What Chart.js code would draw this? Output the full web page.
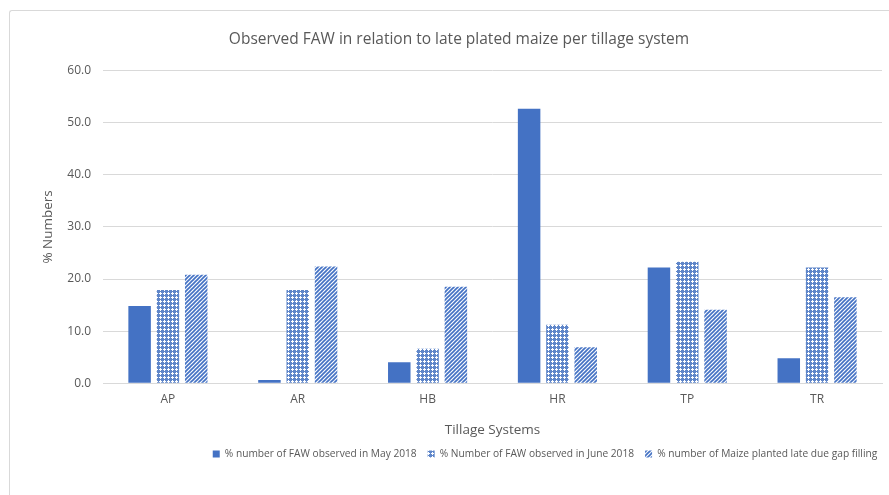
<!DOCTYPE html>
<html>
<head>
<meta charset="utf-8">
<script src="https://cdn.jsdelivr.net/npm/chart.js@4/dist/chart.umd.min.js"></script>
<style>
  html, body { margin: 0; padding: 0; background: #fff; overflow: hidden; width: 889px; height: 495px; }
  #frame { position: absolute; left: 9px; top: 10px; width: 920px; height: 520px;
           border-left: 1px solid #d9d9d9; border-top: 1px solid #d9d9d9; border-top-left-radius: 3px; }
  #c { position: absolute; left: 0; top: 0; }
</style>
</head>
<body>
<div id="frame"><canvas id="c" width="892" height="484"></canvas></div>
<script>
// Tillage systems and the three observed series (%)
const categories = ['AP', 'AR', 'HB', 'HR', 'TP', 'TR'];
const fawMay = [14.8, 0.6, 4.0, 52.7, 22.2, 4.8];
const fawJune = [17.9, 17.9, 6.6, 11.2, 23.3, 22.2];
const lateGapFill = [20.8, 22.4, 18.5, 6.9, 14.1, 16.5];
const seriesNames = [
  '% number of FAW observed in May 2018',
  '% Number of FAW observed in June 2018',
  '% number of Maize planted late due gap filling'
];
const yTicks = [0, 10, 20, 30, 40, 50, 60];

const BLUE = '#4472C4';
const GREY = '#595959';
const FONT = "'Open Sans', sans-serif";

// Dotted-grid fill: blue with small white crosses
function gridPattern() {
  const t = document.createElement('canvas');
  t.width = 4; t.height = 4;
  const g = t.getContext('2d');
  g.fillStyle = '#5f86c9';
  g.fillRect(0, 0, 4, 4);
  g.fillStyle = '#ffffff';
  g.fillRect(2, 1, 1, 3);
  g.fillRect(1, 2, 3, 1);
  return g.createPattern(t, 'repeat');
}

// Wide upward diagonal stripes
function stripePattern() {
  const n = 4;
  const t = document.createElement('canvas');
  t.width = n; t.height = n;
  const g = t.getContext('2d');
  g.fillStyle = '#ffffff';
  g.fillRect(0, 0, n, n);
  g.strokeStyle = BLUE;
  g.lineWidth = 1.7;
  for (let k = -1; k <= 1; k++) {
    g.beginPath();
    g.moveTo(k * n - 1, n + 1);
    g.lineTo(k * n + n + 1, -1);
    g.stroke();
  }
  return g.createPattern(t, 'repeat');
}

// The legend row sits right of centre, under the right-hand part of the plot
const legendShift = {
  id: 'legendShift',
  afterLayout(chart) {
    const l = chart.legend;
    if (l) { l.left += 86; l.right += 86; }
  }
};

const barOpts = { categoryPercentage: 0.654, barPercentage: 0.795, borderWidth: 0 };

new Chart(document.getElementById('c'), {
  type: 'bar',
  data: {
    labels: categories,
    datasets: [
      { label: seriesNames[0], data: fawMay, backgroundColor: BLUE, ...barOpts },
      { label: seriesNames[1], data: fawJune, backgroundColor: gridPattern(), ...barOpts },
      { label: seriesNames[2], data: lateGapFill, backgroundColor: stripePattern(), ...barOpts }
    ]
  },
  plugins: [legendShift],
  options: {
    responsive: false,
    animation: false,
    devicePixelRatio: 1,
    layout: { padding: { left: 26, right: 20, top: 0, bottom: 26 } },
    plugins: {
      title: {
        display: true,
        text: 'Observed FAW in relation to late plated maize per tillage system',
        color: GREY,
        font: { family: FONT, size: 15.5, weight: 'normal' },
        padding: { top: 19, bottom: 22 }
      },
      legend: {
        position: 'bottom',
        labels: {
          color: GREY,
          font: { family: FONT, size: 10.2 },
          boxWidth: 7, boxHeight: 7,
          padding: 11
        }
      },
      tooltip: { enabled: false }
    },
    scales: {
      x: {
        grid: { display: false },
        border: { color: '#d9d9d9' },
        ticks: { color: GREY, font: { family: FONT, size: 12 }, padding: 1 },
        title: { display: true, text: 'Tillage Systems', color: GREY,
                 font: { family: FONT, size: 13.5 }, padding: { top: 14, bottom: 0 } }
      },
      y: {
        min: 0, max: 60,
        afterBuildTicks: (s) => { s.ticks = yTicks.map(v => ({ value: v })); },
        grid: { color: '#d9d9d9', drawTicks: false },
        border: { display: false },
        ticks: { color: GREY, font: { family: FONT, size: 12 }, padding: 12,
                 callback: (v) => Number(v).toFixed(1) },
        title: { display: true, text: '% Numbers', color: GREY,
                 font: { family: FONT, size: 13.5 }, padding: { bottom: 0 } },
        afterFit: (s) => { s.width = 67; }
      }
    }
  }
});
</script>
</body>
</html>
